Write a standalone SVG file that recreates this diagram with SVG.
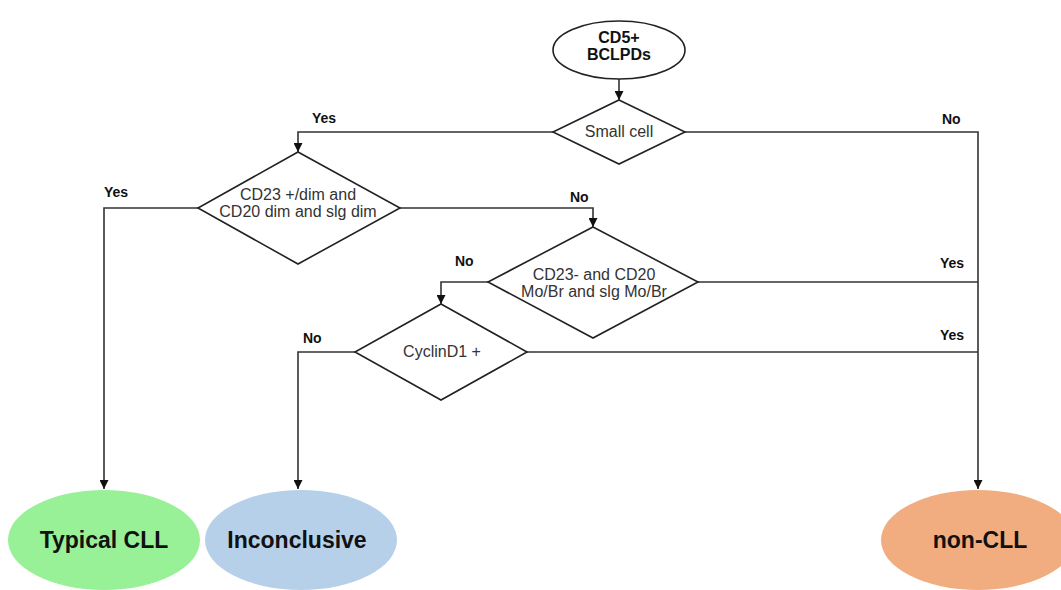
<svg xmlns="http://www.w3.org/2000/svg" width="1061" height="590" viewBox="0 0 1061 590">
<style>
.shape{fill:#fff;stroke:#222;stroke-width:1.6}
.conn{fill:none;stroke:#333;stroke-width:1.6}
.t{font-family:"Liberation Sans",Arial,sans-serif;font-size:16px;fill:#333;text-anchor:middle}
.tb{font-family:"Liberation Sans",Arial,sans-serif;font-size:16px;font-weight:bold;fill:#111;text-anchor:middle}
.lbl{font-family:"Liberation Sans",Arial,sans-serif;font-size:14px;font-weight:bold;fill:#111}
.big{font-family:"Liberation Sans",Arial,sans-serif;font-size:23px;font-weight:bold;fill:#111;text-anchor:middle}
</style>
<defs>
<marker id="arr" viewBox="0 0 10 10" refX="10" refY="5" markerWidth="9" markerHeight="9" markerUnits="userSpaceOnUse" orient="auto">
<path d="M0,0 L10,5 L0,10 z" fill="#111"/>
</marker>
</defs>
<rect width="1061" height="590" fill="#fff"/>
<g id="connectors">
<path class="conn" d="M619,79 L619,100" marker-end="url(#arr)"/>
<path class="conn" d="M553,132 L298,132 L298,152" marker-end="url(#arr)"/>
<path class="conn" d="M685,132 L978,132 L978,489" marker-end="url(#arr)"/>
<path class="conn" d="M198,208 L104,208 L104,489" marker-end="url(#arr)"/>
<path class="conn" d="M400,208 L593,208 L593,227" marker-end="url(#arr)"/>
<path class="conn" d="M488,282 L441,282 L441,304" marker-end="url(#arr)"/>
<path class="conn" d="M698,282 L978,282"/>
<path class="conn" d="M355,352 L298,352 L298,489" marker-end="url(#arr)"/>
<path class="conn" d="M527,352 L978,352"/>
<text class="lbl" x="312" y="123">Yes</text>
<text class="lbl" x="942" y="124">No</text>
<text class="lbl" x="104" y="197">Yes</text>
<text class="lbl" x="570" y="202">No</text>
<text class="lbl" x="455" y="266">No</text>
<text class="lbl" x="940" y="268">Yes</text>
<text class="lbl" x="303" y="343">No</text>
<text class="lbl" x="940" y="340">Yes</text>
</g>
<g id="start">
<ellipse class="shape" cx="619" cy="50" rx="66" ry="29"/>
<text class="tb" x="619" y="43">CD5+</text>
<text class="tb" x="619" y="60">BCLPDs</text>
</g>
<g id="smallcell">
<polygon class="shape" points="619,100 685,132 619,164 553,132"/>
<text class="t" x="619" y="137">Small cell</text>
</g>
<g id="cd23dim">
<polygon class="shape" points="298,152 400,208 298,264 198,208"/>
<text class="t" x="298" y="200">CD23 +/dim and</text>
<text class="t" x="298" y="217">CD20 dim and slg dim</text>
</g>
<g id="cd23neg">
<polygon class="shape" points="593,227 698,282 593,338 488,282"/>
<text class="t" x="594" y="280">CD23- and CD20</text>
<text class="t" x="594" y="297">Mo/Br and slg Mo/Br</text>
</g>
<g id="cyclin">
<polygon class="shape" points="441,304 527,352 441,400 355,352"/>
<text class="t" x="442" y="357">CyclinD1 +</text>
</g>
<g id="typical">
<ellipse cx="104" cy="540" rx="96" ry="50" fill="#98f097"/>
<text class="big" x="104" y="548">Typical CLL</text>
</g>
<g id="inconclusive">
<ellipse cx="301" cy="540" rx="96" ry="50" fill="#b7d0e9"/>
<text class="big" x="297" y="548">Inconclusive</text>
</g>
<g id="noncll">
<ellipse cx="978" cy="540" rx="97" ry="50" fill="#f1ad80"/>
<text class="big" x="980" y="548">non-CLL</text>
</g>
</svg>
